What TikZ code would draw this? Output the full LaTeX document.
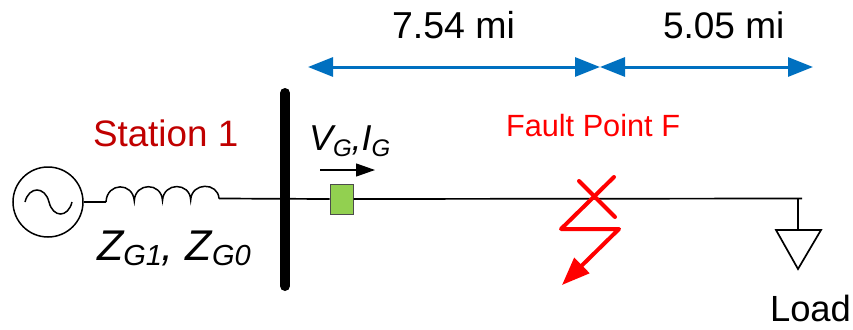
\documentclass[tikz,border=0pt]{standalone}
\usepackage{fontspec}
\setmainfont{Liberation Sans}
\usetikzlibrary{arrows.meta}
\definecolor{stationred}{HTML}{C00000}
\definecolor{distblue}{HTML}{0070C0}
\definecolor{meter}{HTML}{92D050}
\newcommand{\fsz}[1]{\fontsize{#1}{#1}\selectfont}
\tikzset{
  wire/.style={line width=1.7pt,black},
  lbl/.style={inner sep=0pt,outer sep=0pt,anchor=base west,text=black},
  dist/.style={line width=3pt,distblue,{Triangle[length=25pt,width=19pt]}-{Triangle[length=25pt,width=19pt]}},
  fault/.style={line width=4pt,red,line cap=round,line join=round},
}
\begin{document}
\begin{tikzpicture}[x=1pt,y=-1pt]
\useasboundingbox (0,0) rectangle (853,329);
% distance arrows
\coordinate (d1) at (308,67);
\coordinate (d2) at (600,67);
\coordinate (d3) at (600,67);
\coordinate (d4) at (813,67);
\draw[dist] (d1) -- (d2);
\draw[dist] (d3) -- (d4);
\node[lbl] (t1) at (392,39) {\fsz{37.5}7.54 mi};
\node[lbl] (t2) at (663,39) {\fsz{37}5.05 mi};
% source
\node[circle,draw,line width=1.5pt,minimum size=70pt,inner sep=0pt] (gen) at (48,202) {};
\draw[line width=1.5pt] (25,202) .. controls (29,186) and (45,186) .. (49,202)
   .. controls (53,218) and (68,218) .. (72,202);
\coordinate (l0) at (106,202);
\coordinate (l1) at (134.3,201);
\coordinate (l2) at (162.5,200.5);
\coordinate (l3) at (190.7,200);
\coordinate (l4) at (219,198.5);
\draw[wire] (gen.east) -- (l0);
\draw[line width=1.5pt] (l0) .. controls (107,182) and (133,182) .. (l1)
  .. controls (135,182) and (161.5,182) .. (l2)
  .. controls (163.5,182) and (190,182) .. (l3)
  .. controls (191.5,182) and (218,182) .. (l4);
% line
\coordinate (lineend) at (802,198.5);
\node[draw=black!70,line width=1pt,fill=meter,minimum width=23pt,minimum height=30pt,inner sep=0pt] (m) at (341.5,199) {};
\coordinate (bt) at (285,93);
\coordinate (bb) at (285,286);
\draw[wire] (l4) -- (m.west);
\draw[wire] (m.east) -- (lineend);
\draw[line width=10pt,line cap=round] (bt) -- (bb);
% labels left
\node[lbl,text=stationred] (st) at (93,146) {\fsz{36.8}Station 1};
\node[lbl] (z) at (97,260) {\fsz{43}\itshape Z\raisebox{-5pt}{\fsz{29}G1}, Z\raisebox{-5pt}{\fsz{29}G0}};
\node[lbl] (v) at (309,150) {\fsz{36}\itshape V\raisebox{-6pt}{\fsz{24}G},I\raisebox{-6pt}{\fsz{24}G}};
\coordinate (a1) at (320,170);
\coordinate (a2) at (375,170);
\draw[line width=1.2pt,-{Triangle[length=19pt,width=13pt]}] (a1) -- (a2);
% fault
\node[lbl,text=red] (ff) at (506,136) {\fsz{30.7}Fault Point F};
\coordinate (x1) at (579,181);
\coordinate (x2) at (615,217);
\coordinate (x3) at (614,177);
\coordinate (x4) at (561,229);
\coordinate (x5) at (619,229);
\coordinate (x6) at (562,285);
\draw[fault] (x1) -- (x2);
\draw[fault,-{Triangle[length=28pt,width=21pt]}] (x3) -- (x4) -- (x5) -- (x6);
% load
\coordinate (lt) at (798,198.5);
\coordinate (ltop) at (798,230);
\coordinate (la) at (776,230);
\coordinate (lb) at (821,230);
\coordinate (lc) at (798,269);
\draw[wire] (lt) -- (ltop);
\draw[wire,line join=miter] (la) -- (lb) -- (lc) -- cycle;
\node[lbl] (ld) at (770,321) {\fsz{36.4}Load};
\end{tikzpicture}
\end{document}
